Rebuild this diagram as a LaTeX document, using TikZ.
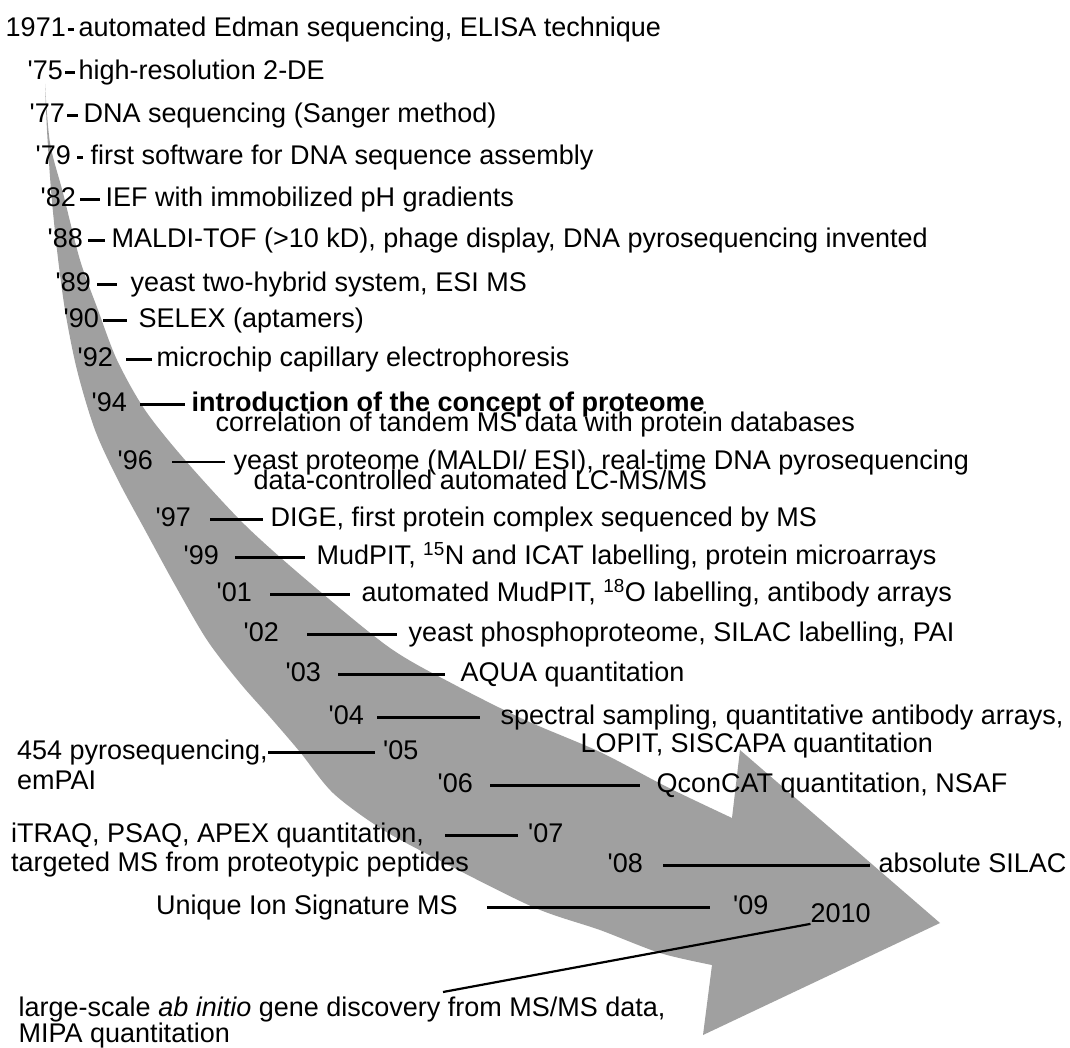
\documentclass[tikz,border=0pt]{standalone}
\usepackage{fontspec}
\setmainfont{Liberation Sans}
\usepackage{graphicx}
\definecolor{arrowgray}{RGB}{160,160,160}
\newcommand{\yq}{\textquotesingle}
\begin{document}
\begin{tikzpicture}[x=1pt,y=-1pt,
  lbl/.style={inner xsep=0pt, inner ysep=0pt, text height=19.3pt, text depth=5pt,
    font=\fontsize{27pt}{27pt}\selectfont, text=black},
  yr/.style={lbl, anchor=east},
  ds/.style={lbl, anchor=west},
  conn/.style={line width=2.7pt, draw=black}]
\useasboundingbox (0,0) rectangle (1070,1048);
\fill[white] (0,0) rectangle (1070,1048);

% the curved arrow
\fill[arrowgray]
  plot[smooth, tension=0.5] coordinates {(45,84) (47,130) (51,190) (57,250) (65,310) (77,370)
    (95,430) (118,480) (145,530) (175,585) (207,640) (240,683) (270,717) (300,752) (333,793)
    (380,828) (433,857) (533,907) (600,930) (660,953) (712,965)}
  -- (703,1035) -- (940,923) -- (740,750) -- (732,818)
  -- plot[smooth, tension=0.5] coordinates {(732,818) (667,787) (600,752) (525,720) (455,685)
    (390,648) (310,583) (245,525) (185,460) (145,410) (117,360) (98,310) (80,260) (63,193)
    (50,143) (45,84)}
  -- cycle;

% 1971
\node[yr] (y71) at (66,29.5) {1971};
\node[ds] (t71) at (78.5,29.5) {automated Edman sequencing, ELISA technique};
\draw[conn, shorten <=1.5pt, shorten >=4.5pt] (y71.east) -- (t71.west);
% 75
\node[yr] (y75) at (63,72.5) {\yq75};
\node[ds] (t75) at (78.5,72.5) {high-resolution 2-DE};
\draw[conn, shorten <=2pt, shorten >=3.5pt] (y75.east) -- (t75.west);
% 77
\node[yr] (y77) at (65,115.5) {\yq77};
\node[ds] (t77) at (83.5,115.5) {DNA sequencing (Sanger method)};
\draw[conn, shorten <=2pt, shorten >=5.5pt] (y77.east) -- (t77.west);
% 79
\node[yr] (y79) at (71,157.5) {\yq79};
\node[ds] (t79) at (90.5,157.5) {first software for DNA sequence assembly};
\draw[conn, shorten <=6pt, shorten >=7.5pt] (y79.east) -- (t79.west);
% 82
\node[yr] (y82) at (76,199.5) {\yq82};
\node[ds] (t82) at (105.5,199.5) {IEF with immobilized pH gradients};
\draw[conn, shorten <=4pt, shorten >=5.5pt] (y82.east) -- (t82.west);
% 88
\node[yr] (y88) at (83,240.5) {\yq88};
\node[ds] (t88) at (111.5,240.5) {MALDI-TOF (>10 kD), phage display, DNA pyrosequencing invented};
\draw[conn, shorten <=5pt, shorten >=6.5pt] (y88.east) -- (t88.west);
% 89
\node[yr] (y89) at (91,284.5) {\yq89};
\node[ds] (t89) at (130.5,284.5) {yeast two-hybrid system, ESI MS};
\draw[conn, shorten <=6pt, shorten >=13.5pt] (y89.east) -- (t89.west);
% 90
\node[yr] (y90) at (99,320.5) {\yq90};
\node[ds] (t90) at (138.5,320.5) {SELEX (aptamers)};
\draw[conn, shorten <=4pt, shorten >=11.5pt] (y90.east) -- (t90.west);
% 92
\node[yr] (y92) at (113,359.5) {\yq92};
\node[ds] (t92) at (156.5,359.5) {microchip capillary electrophoresis};
\draw[conn, shorten <=13pt, shorten >=4.5pt] (y92.east) -- (t92.west);
% 94
\node[yr] (y94) at (127,404.5) {\yq94};
\node[ds] (t94) at (191.5,404.5) {\bfseries introduction of the concept of proteome};
\node[ds] (t94b) at (215.5,424.5) {correlation of tandem MS data with protein databases};
\draw[conn, shorten <=13pt, shorten >=6.5pt] (y94.east) -- (t94.west);
% 96
\node[yr] (y96) at (153,462) {\yq96};
\node[ds] (t96) at (233.5,462) {yeast proteome (MALDI/ ESI), real-time DNA pyrosequencing};
\node[ds] (t96b) at (253.5,482.5) {data-controlled automated LC-MS/MS};
\draw[conn, shorten <=19pt, shorten >=8.5pt] (y96.east) -- (t96.west);
% 97
\node[yr] (y97) at (191,519.5) {\yq97};
\node[ds] (t97) at (270.5,519.5) {DIGE, first protein complex sequenced by MS};
\draw[conn, shorten <=19pt, shorten >=7.5pt] (y97.east) -- (t97.west);
% 99
\node[yr] (y99) at (219,557.5) {\yq99};
\node[ds] (t99) at (316.5,557.5) {MudPIT, \textsuperscript{15}N and ICAT labelling, protein microarrays};
\draw[conn, shorten <=16pt, shorten >=11.5pt] (y99.east) -- (t99.west);
% 01
\node[yr] (y01) at (252,594.5) {\yq01};
\node[ds] (t01) at (361.5,594.5) {automated MudPIT, \textsuperscript{18}O labelling, antibody arrays};
\draw[conn, shorten <=18pt, shorten >=11.5pt] (y01.east) -- (t01.west);
% 02
\node[yr] (y02) at (279,634.5) {\yq02};
\node[ds] (t02) at (408.5,634.5) {yeast phosphoproteome, SILAC labelling, PAI};
\draw[conn, shorten <=28pt, shorten >=11.5pt] (y02.east) -- (t02.west);
% 03
\node[yr] (y03) at (321,674.5) {\yq03};
\node[ds] (t03) at (460.5,674.5) {AQUA quantitation};
\draw[conn, shorten <=17pt, shorten >=15.5pt] (y03.east) -- (t03.west);
% 04
\node[yr] (y04) at (364,717.5) {\yq04};
\node[ds] (t04) at (500.5,717.5) {spectral sampling, quantitative antibody arrays,};
\node[ds] (t04b) at (580.5,745.5) {LOPIT, SISCAPA quantitation};
\draw[conn, shorten <=13pt, shorten >=20.5pt] (y04.east) -- (t04.west);
% 05
\node[lbl, anchor=east] (t05) at (268,752.5) {454 pyrosequencing,};
\node[lbl, anchor=west] (t05b) at ([yshift=-30pt]t05.west) {emPAI};
\node[lbl, anchor=west] (y05) at (383,752.5) {\yq05};
\draw[conn, shorten >=8pt] (t05.east) -- (y05.west);
% 06
\node[yr] (y06) at (473,785.5) {\yq06};
\node[ds] (t06) at (656.5,785.5) {QconCAT quantitation, NSAF};
\draw[conn, shorten <=17pt, shorten >=16.5pt] (y06.east) -- (t06.west);
% 07
\node[lbl, anchor=east] (t07) at (424,835.5) {iTRAQ, PSAQ, APEX quantitation,};
\node[lbl, anchor=west] (t07b) at ([yshift=-29pt]t07.west) {targeted MS from proteotypic peptides};
\node[lbl, anchor=west] (y07) at (528,835.5) {\yq07};
\draw[conn, shorten <=21pt, shorten >=10pt] (t07.east) -- (y07.west);
% 08
\node[yr] (y08) at (643,865.5) {\yq08};
\node[ds] (t08) at (878.5,865.5) {absolute SILAC};
\draw[conn, shorten <=20pt, shorten >=8.5pt] (y08.east) -- (t08.west);
% 09
\node[lbl, anchor=east] (t09) at (458,907.5) {Unique Ion Signature MS};
\node[lbl, anchor=west] (y09) at (733,907.5) {\yq09};
\draw[conn, shorten <=29pt, shorten >=23pt] (t09.east) -- (y09.west);
% 2010
\node[ds] (y10) at (810.5,915.5) {2010};
\coordinate (c10) at (443,992);
\draw[line width=2.2pt] (c10) -- ([yshift=4pt]y10.south west);
\node[ds] (t10) at (18.5,1009.5) {large-scale \textit{ab initio} gene discovery from MS/MS data,};
\node[ds] (t10b) at (18.5,1035.5) {MIPA quantitation};
\end{tikzpicture}
\end{document}
